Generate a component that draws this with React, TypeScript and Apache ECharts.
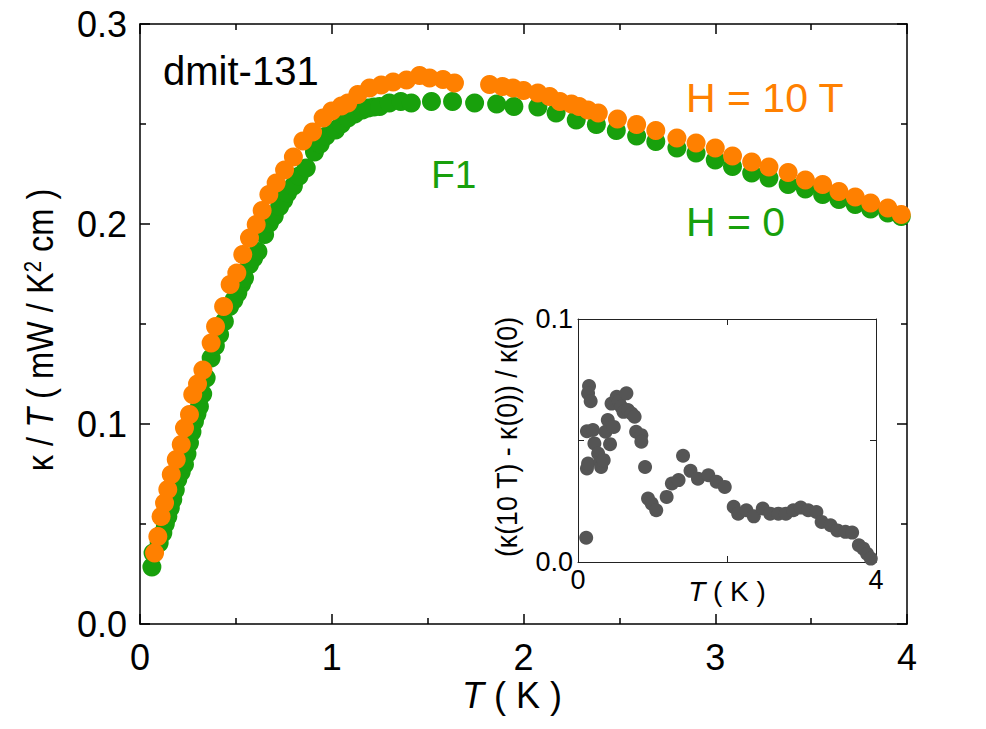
import React, { useEffect, useRef } from "react";
import * as echarts from "echarts";

// Main plot: kappa/T vs T, H = 0 (green)
const tempH0 = [0.062,0.068,0.100,0.119,0.132,0.145,0.158,0.171,0.184,0.197,0.215,0.232,0.245,0.258,0.271,0.284,0.297,0.310,0.327,0.345,0.371,0.393,0.415,0.440,0.467,0.490,0.510,0.530,0.545,0.571,0.593,0.615,0.650,0.675,0.700,0.728,0.750,0.770,0.800,0.830,0.867,0.910,0.940,0.970,1.020,1.050,1.084,1.120,1.160,1.190,1.220,1.250,1.300,1.360,1.415,1.520,1.630,1.745,1.860,1.950,2.075,2.170,2.275,2.380,2.484,2.590,2.690,2.800,2.900,3.000,3.090,3.190,3.280,3.380,3.470,3.560,3.645,3.730,3.810,3.900,3.970];
const kappaH0 = [0.0285,0.0355,0.0405,0.0455,0.050,0.0538,0.058,0.0622,0.067,0.0722,0.076,0.0797,0.085,0.0905,0.096,0.1013,0.105,0.1088,0.115,0.123,0.133,0.139,0.1447,0.1513,0.1588,0.162,0.1655,0.170,0.173,0.1797,0.183,0.1863,0.1947,0.2005,0.204,0.2088,0.212,0.2155,0.219,0.224,0.228,0.236,0.240,0.244,0.247,0.250,0.253,0.255,0.257,0.258,0.2585,0.2588,0.2605,0.2613,0.2605,0.2613,0.2613,0.2605,0.2600,0.2588,0.2585,0.2555,0.252,0.2497,0.2468,0.244,0.2413,0.238,0.2355,0.232,0.2288,0.2255,0.223,0.2197,0.2175,0.2147,0.2122,0.2097,0.2075,0.2055,0.2038];

// H = 10 T (orange)
const tempH10 = [0.076,0.093,0.110,0.128,0.145,0.163,0.189,0.215,0.232,0.258,0.275,0.300,0.328,0.371,0.394,0.436,0.470,0.505,0.536,0.571,0.606,0.637,0.672,0.710,0.754,0.800,0.850,0.900,0.955,1.000,1.050,1.084,1.136,1.197,1.258,1.320,1.390,1.458,1.510,1.580,1.640,1.823,1.890,1.945,2.000,2.075,2.136,2.190,2.250,2.290,2.336,2.390,2.490,2.590,2.690,2.800,2.900,3.000,3.090,3.190,3.280,3.380,3.470,3.560,3.645,3.730,3.810,3.900,3.970];
const kappaH10 = [0.0355,0.0438,0.0538,0.0605,0.0672,0.0747,0.0822,0.0897,0.098,0.1047,0.1147,0.120,0.127,0.1405,0.1488,0.1588,0.1697,0.1755,0.1847,0.193,0.1997,0.2068,0.2147,0.2205,0.227,0.2335,0.2415,0.246,0.253,0.2565,0.259,0.2605,0.2647,0.268,0.2695,0.271,0.272,0.2742,0.273,0.2722,0.2705,0.2697,0.2688,0.268,0.2668,0.2655,0.2638,0.2613,0.260,0.2588,0.257,0.2555,0.2525,0.2497,0.2468,0.243,0.2405,0.238,0.234,0.231,0.2285,0.2258,0.222,0.2197,0.2163,0.2135,0.2105,0.208,0.2047];

// Inset: (kappa(10T) - kappa(0)) / kappa(0)
const tempInset = [0.11,0.148,0.135,0.17,0.12,0.2,0.12,0.135,0.22,0.27,0.30,0.31,0.345,0.37,0.40,0.43,0.45,0.48,0.52,0.55,0.58,0.61,0.65,0.67,0.72,0.76,0.78,0.85,0.85,0.90,0.94,0.99,1.05,1.19,1.26,1.35,1.41,1.51,1.61,1.75,1.86,1.97,2.09,2.15,2.26,2.36,2.48,2.58,2.69,2.79,2.89,2.99,3.09,3.20,3.27,3.39,3.48,3.59,3.68,3.77,3.83,3.88,3.93];
const ratioInset = [0.0100,0.0724,0.0694,0.0662,0.0538,0.0543,0.0385,0.0405,0.0488,0.0446,0.0412,0.0391,0.0419,0.0536,0.0584,0.0485,0.0652,0.0556,0.068,0.066,0.0639,0.0618,0.0694,0.0625,0.0611,0.0598,0.0536,0.0522,0.0495,0.0391,0.0261,0.024,0.0213,0.0268,0.0323,0.0337,0.0437,0.0375,0.0343,0.0357,0.033,0.0309,0.0227,0.0199,0.0213,0.0188,0.022,0.0199,0.0199,0.0199,0.0213,0.0224,0.0213,0.0206,0.0165,0.0151,0.013,0.0124,0.0121,0.0069,0.0055,0.0034,0.0014];

const mainXTicks = [0, 1, 2, 3, 4];
const mainYTicks = [0, 0.1, 0.2, 0.3];

const GREEN = "#18a00c";
const ORANGE = "#ff8000";
const GRAY = "#555555";
const FONT = "'Liberation Sans', Arial, sans-serif";

const zip = (a: number[], b: number[]) => a.map((v, i) => [v, b[i]]);

export default function App() {
  const ref = useRef<HTMLDivElement>(null);
  useEffect(() => {
    if (!ref.current) return;
    const chart = echarts.init(ref.current, null, { renderer: "svg" });
    const lineStyle = { color: "#000", width: 1.5 };
    const mainAxisBase = {
      type: "value" as const,
      splitLine: { show: false },
      axisLine: { show: true, onZero: false, lineStyle },
      axisTick: { show: true, inside: true, length: 10, lineStyle },
      minorTick: { show: true, splitNumber: 2, length: 6, lineStyle },
    };
    const insetLine = { color: "#222", width: 1 };
    const insetAxisBase = {
      type: "value" as const,
      splitLine: { show: false },
      axisLine: { show: true, onZero: false, lineStyle: insetLine },
      axisTick: { show: true, inside: true, length: 6, lineStyle: insetLine },
      minorTick: { show: false },
    };
    const option: any = {
      animation: false,
      backgroundColor: "#fff",
      grid: [
        { left: 140, top: 24, width: 767, height: 600 },
        { left: 578, top: 319, width: 298, height: 243 },
      ],
      xAxis: [
        {
          ...mainAxisBase,
          gridIndex: 0,
          position: "bottom",
          min: mainXTicks[0],
          max: mainXTicks[mainXTicks.length - 1],
          interval: 1,
          axisLabel: { show: true, fontSize: 36, color: "#000", fontFamily: FONT, margin: 15 },
        },
        {
          ...mainAxisBase,
          gridIndex: 0,
          position: "top",
          min: 0,
          max: 4,
          interval: 1,
          axisLabel: { show: false },
        },
        {
          ...insetAxisBase,
          gridIndex: 1,
          position: "bottom",
          min: 0,
          max: 4,
          interval: 2,
          axisLabel: {
            show: true,
            fontSize: 27,
            color: "#000",
            fontFamily: FONT,
            margin: 4,
            formatter: (v: number) => (v === 0 || v === 4 ? String(v) : ""),
          },
        },
        {
          ...insetAxisBase,
          gridIndex: 1,
          position: "top",
          min: 0,
          max: 4,
          interval: 2,
          axisLabel: { show: false },
        },
      ],
      yAxis: [
        {
          ...mainAxisBase,
          gridIndex: 0,
          position: "left",
          min: mainYTicks[0],
          max: mainYTicks[mainYTicks.length - 1],
          interval: 0.1,
          axisLabel: {
            show: true,
            fontSize: 36,
            color: "#000",
            fontFamily: FONT,
            margin: 13,
            formatter: (v: number) => v.toFixed(1),
          },
        },
        {
          ...mainAxisBase,
          gridIndex: 0,
          position: "right",
          min: 0,
          max: 0.3,
          interval: 0.1,
          axisLabel: { show: false },
        },
        {
          ...insetAxisBase,
          gridIndex: 1,
          position: "left",
          min: 0,
          max: 0.1,
          interval: 0.05,
          axisLabel: {
            show: true,
            fontSize: 27,
            color: "#000",
            fontFamily: FONT,
            margin: 5,
            formatter: (v: number) => (Math.abs(v - 0.05) < 1e-9 ? "" : v.toFixed(1)),
          },
        },
        {
          ...insetAxisBase,
          gridIndex: 1,
          position: "right",
          min: 0,
          max: 0.1,
          interval: 0.05,
          axisLabel: { show: false },
        },
      ],
      series: [
        {
          name: "H = 0",
          type: "scatter",
          xAxisIndex: 0,
          yAxisIndex: 0,
          symbol: "circle",
          symbolSize: 19,
          itemStyle: { color: GREEN, opacity: 1 },
          data: zip(tempH0, kappaH0),
          z: 2,
        },
        {
          name: "H = 10 T",
          type: "scatter",
          xAxisIndex: 0,
          yAxisIndex: 0,
          symbol: "circle",
          symbolSize: 19,
          itemStyle: { color: ORANGE, opacity: 1 },
          data: zip(tempH10, kappaH10),
          z: 3,
        },
        {
          name: "inset",
          type: "scatter",
          xAxisIndex: 2,
          yAxisIndex: 2,
          symbol: "circle",
          symbolSize: 14,
          itemStyle: { color: GRAY, opacity: 1 },
          data: zip(tempInset, ratioInset),
          z: 3,
        },
      ],
      graphic: [
        {
          type: "text",
          x: 163,
          y: 71,
          style: { text: "dmit-131", fill: "#000", fontSize: 40, fontFamily: FONT, align: "left", verticalAlign: "middle" },
        },
        {
          type: "text",
          x: 431,
          y: 174,
          style: { text: "F1", fill: GREEN, fontSize: 39, fontFamily: FONT, align: "left", verticalAlign: "middle" },
        },
        {
          type: "text",
          x: 686,
          y: 98,
          style: { text: "H = 10 T", fill: ORANGE, fontSize: 41, fontFamily: FONT, align: "left", verticalAlign: "middle" },
        },
        {
          type: "text",
          x: 686,
          y: 222,
          style: { text: "H = 0", fill: GREEN, fontSize: 41, fontFamily: FONT, align: "left", verticalAlign: "middle" },
        },
        {
          type: "text",
          x: 512,
          y: 695,
          style: {
            text: "{i|T}{a| ( K )}",
            align: "center",
            verticalAlign: "middle",
            rich: {
              i: { fontSize: 36, fontFamily: FONT, fontStyle: "italic", fill: "#000" },
              a: { fontSize: 36, fontFamily: FONT, fill: "#000" },
            },
          },
        },
        {
          type: "text",
          x: 40,
          y: 330,
          rotation: Math.PI / 2,
          scaleX: 0.88,
          style: {
            text: "{a|κ / }{i|T}{a| ( mW / K}{s|2}{a| cm )}",
            align: "center",
            verticalAlign: "middle",
            rich: {
              i: { fontSize: 37, fontFamily: FONT, fontStyle: "italic", fill: "#000" },
              a: { fontSize: 37, fontFamily: FONT, fill: "#000" },
              s: { fontSize: 23, fontFamily: FONT, fill: "#000", verticalAlign: "top" },
            },
          },
        },
        {
          type: "text",
          x: 727,
          y: 591,
          style: {
            text: "{i|T}{a| ( K )}",
            align: "center",
            verticalAlign: "middle",
            rich: {
              i: { fontSize: 28, fontFamily: FONT, fontStyle: "italic", fill: "#000" },
              a: { fontSize: 28, fontFamily: FONT, fill: "#000" },
            },
          },
        },
        {
          type: "text",
          x: 507,
          y: 437,
          rotation: Math.PI / 2,
          scaleX: 0.92,
          style: {
            text: "(κ(10 T) - κ(0)) / κ(0)",
            fill: "#000",
            fontSize: 29,
            fontFamily: FONT,
            align: "center",
            verticalAlign: "middle",
          },
        },
      ],
    };
    chart.setOption(option);
    return () => chart.dispose();
  }, []);
  return <div ref={ref} style={{ position: "fixed", left: 0, top: 0, width: 986, height: 729 }} />;
}
